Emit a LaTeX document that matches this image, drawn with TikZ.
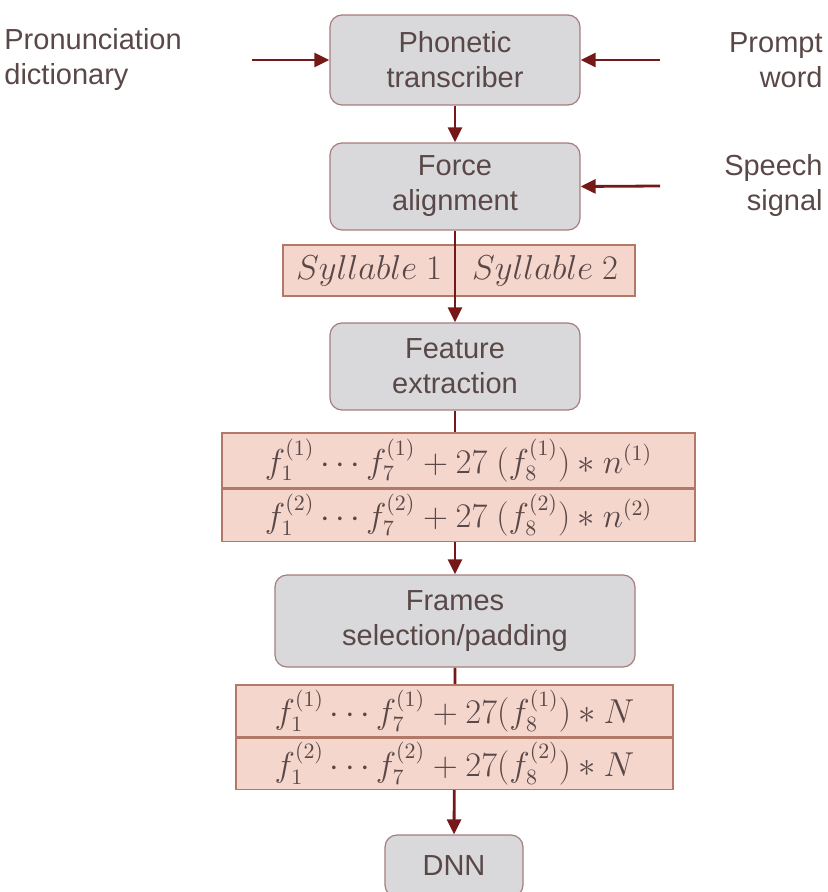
\documentclass[tikz,border=0pt]{standalone}
\usepackage{amsmath}
\usepackage{fontspec}
\setmainfont{Liberation Sans}
\usepackage{tikz}
\usetikzlibrary{arrows.meta, backgrounds}
\usepackage{xcolor}

\definecolor{boxgray}{HTML}{D9D9DB}
\definecolor{boxedge}{HTML}{A87C7C}
\definecolor{datafill}{HTML}{F4D6CC}
\definecolor{dataedge}{HTML}{B27868}
\definecolor{arrowred}{HTML}{761818}
\definecolor{textbrown}{HTML}{5A4848}

\tikzset{
    procbox/.style={draw=boxedge, fill=boxgray, rounded corners=6pt, line width=0.6pt,
        align=center, inner sep=0pt, text=textbrown},
    databox/.style={draw=dataedge, fill=datafill, line width=0.6pt,
        inner sep=0pt, text=textbrown, font=\fontsize{16.2}{19}\selectfont},
    flowarrow/.style={arrowred, line width=1.4pt, -{Triangle[length=7.5pt, width=7pt]}},
    sidelabel/.style={text=textbrown, inner sep=0pt}
}

\begin{document}
\begin{tikzpicture}[x=0.5pt, y=-0.5pt, font=\fontsize{14.5}{17.5}\selectfont]
    \useasboundingbox (0,0) rectangle (827,892);

    % Processing blocks
    \node[procbox, minimum width=125pt, minimum height=45pt] (phon) at (455,60) {Phonetic\\transcriber};
    \node[procbox, minimum width=125pt, minimum height=43.5pt] (force) at (455,186.5) {Force\\alignment};
    \node[procbox, minimum width=125pt, minimum height=43.5pt] (feat) at (455,366.5) {Feature\\extraction};
    \node[procbox, minimum width=180pt, minimum height=46pt] (frames) at (455,621) {Frames\\selection/padding};
    \node[procbox, minimum width=69pt, minimum height=31pt] (dnn) at (454,866) {DNN};

    % Syllable segments
    \node[databox, minimum width=86pt, minimum height=25.5pt] (syl1) at (369,270.5) {$Syllable\ 1$};
    \node[databox, minimum width=90pt, minimum height=25.5pt] (syl2) at (545,270.5) {$Syllable\ 2$};

    % Feature vectors per syllable
    \node[databox, minimum width=236.5pt, minimum height=27.5pt] (feat1) at (458.5,460.5)
        {$f_1^{(1)} \cdots f_7^{(1)} + 27\ (f_8^{(1)}) * n^{(1)}$};
    \node[databox, minimum width=236.5pt, minimum height=26pt, anchor=north] (feat2) at (feat1.south)
        {$f_1^{(2)} \cdots f_7^{(2)} + 27\ (f_8^{(2)}) * n^{(2)}$};

    % Fixed-length feature vectors
    \node[databox, minimum width=218.5pt, minimum height=26pt] (fix1) at (454.5,711)
        {$f_1^{(1)} \cdots f_7^{(1)} + 27(f_8^{(1)}) * N$};
    \node[databox, minimum width=218.5pt, minimum height=25.5pt, anchor=north] (fix2) at (fix1.south)
        {$f_1^{(2)} \cdots f_7^{(2)} + 27(f_8^{(2)}) * N$};

    % Inputs
    \node[sidelabel, anchor=west, align=left] (dict) at (4,60) {Pronunciation\\dictionary};
    \node[sidelabel, anchor=east, align=right] (prompt) at (823,60) {Prompt\\word};
    \node[sidelabel, anchor=east, align=right] (speech) at (823,186) {Speech\\signal};
    \coordinate (dictend) at (252,60);
    \coordinate (promptend) at (660,60);
    \coordinate (speechend) at (660,186);

    \draw[flowarrow] (dictend) -- (phon.west);
    \draw[flowarrow] (promptend) -- (phon.east);
    \draw[flowarrow] (speechend) -- (force.east);
    \draw[flowarrow] (phon.south) -- (force.north);
    \draw[flowarrow] (force.south) -- (feat.north);

    \begin{scope}[on background layer]
        \draw[flowarrow] (feat.south) -- (frames.north);
        \draw[flowarrow] (frames.south) -- (dnn.north);
    \end{scope}
\end{tikzpicture}
\end{document}
